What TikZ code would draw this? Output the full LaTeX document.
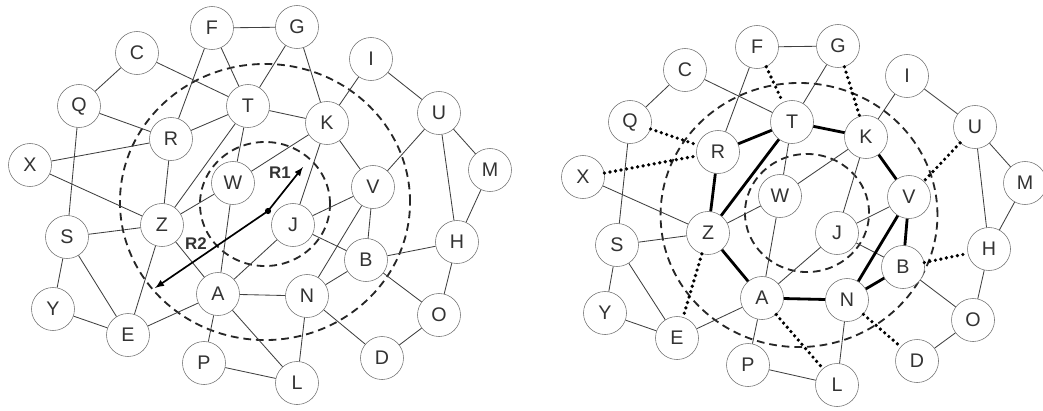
\documentclass[tikz,border=0pt]{standalone}
\usepackage{fontspec}
\setmainfont{Liberation Sans}
\usetikzlibrary{arrows}

\begin{document}
\begin{tikzpicture}[>=latex,x=0.025cm,y=-0.025cm,
  vtx/.style={circle,draw=black!55,fill=white,minimum size=1.075cm,inner sep=0pt,
    font=\fontsize{14}{16}\selectfont,text=black!80},
  edge/.style={draw=black!75,line width=0.6pt},
  route/.style={draw=black,line width=2pt},
  cut/.style={draw=black,line width=2.6pt,line cap=round,dash pattern=on 0pt off 4pt},
  ring/.style={draw=black!85,line width=1.3pt,dash pattern=on 5.5pt off 3.5pt}]
\useasboundingbox (0,0) rectangle (1043,410);
% search rings
\draw[ring] (265,202) ellipse (3.625cm and 3.45cm);
\draw[ring] (265,204) ellipse (1.625cm and 1.55cm);
\draw[ring] (799,215) ellipse (3.46cm and 3.3cm);
\draw[ring] (807,213) ellipse (1.55cm and 1.475cm);
% left graph
\foreach \n/\x/\y in {F/212/28,G/297/27,C/137/53,Q/79/106,R/171/139,T/248/106,
  X/30/165,W/233/183,I/371/59,K/327/123,U/439/113,M/490/170,V/373/187,
  J/293/225,Z/162/225,S/67/237,Y/53/309,E/128/335,A/218/294,P/204/363,
  B/366/260,N/307/296,O/439/315,D/382/358,L/297/383,H/457/242}
  \node[vtx] (l\n) at (\x,\y) {\n};
\foreach \a/\b in {F/T,F/R,F/G,C/Q,C/T,Q/R,Q/S,X/R,X/Z,R/T,R/Z,T/Z,T/W,G/T,G/K,
  T/K,I/K,I/U,U/M,U/V,U/H,K/V,K/W,K/J,S/Z,S/Y,S/E,Y/E,Z/E,Z/A,E/A,A/P,A/L,P/L,
  A/W,A/J,A/N,J/B,J/V,V/N,V/B,B/N,B/H,B/O,N/L,N/D,O/D,O/H,H/M,Z/W}
  \draw[edge] (l\a) -- (l\b);
% radii
\coordinate (lo) at (268,211);
\coordinate (r1) at (303,167);
\coordinate (r2) at (155,288);
\draw[->,line width=1.2pt] (lo) -- (r1);
\draw[->,line width=1.2pt] (lo) -- (r2);
\fill (lo) circle (2.2pt);
\node[font=\bfseries\fontsize{12}{14}\selectfont,text=black!80] (lr1) at (280,173) {R1};
\node[font=\bfseries\fontsize{12}{14}\selectfont,text=black!80] (lr2) at (196,244) {R2};
% right graph
\foreach \n/\x/\y in {F/757/47,G/838/46,C/685/70,Q/630/122,R/718/152,T/792/122,
  X/583/177,W/780/196,I/907/76,K/866/137,U/975/127,M/1025/183,V/909/197,
  J/837/233,Z/708/233,S/617/245,Y/605/313,E/677/338,A/762/298,P/748/365,
  B/903/267,N/847/300,O/973/320,D/917/361,L/837/385,H/989/249}
  \node[vtx] (r\n) at (\x,\y) {\n};
\foreach \a/\b in {C/Q,C/T,F/R,F/G,G/T,I/K,I/U,U/M,U/H,X/Z,Q/S,S/Z,S/Y,S/E,Y/E,
  E/A,A/P,P/L,A/W,A/J,T/W,K/W,K/J,J/V,J/B,B/O,O/D,O/H,H/M,N/L,Z/W}
  \draw[edge] (r\a) -- (r\b);
\foreach \a/\b in {R/T,T/Z,R/Z,T/K,K/V,V/B,V/N,N/B,A/N,Z/A}
  \draw[route] (r\a) -- (r\b);
\foreach \a/\b in {F/T,G/K,Q/R,X/R,Z/E,A/L,N/D,B/H,U/V}
  \draw[cut] (r\a) -- (r\b);
\end{tikzpicture}
\end{document}
